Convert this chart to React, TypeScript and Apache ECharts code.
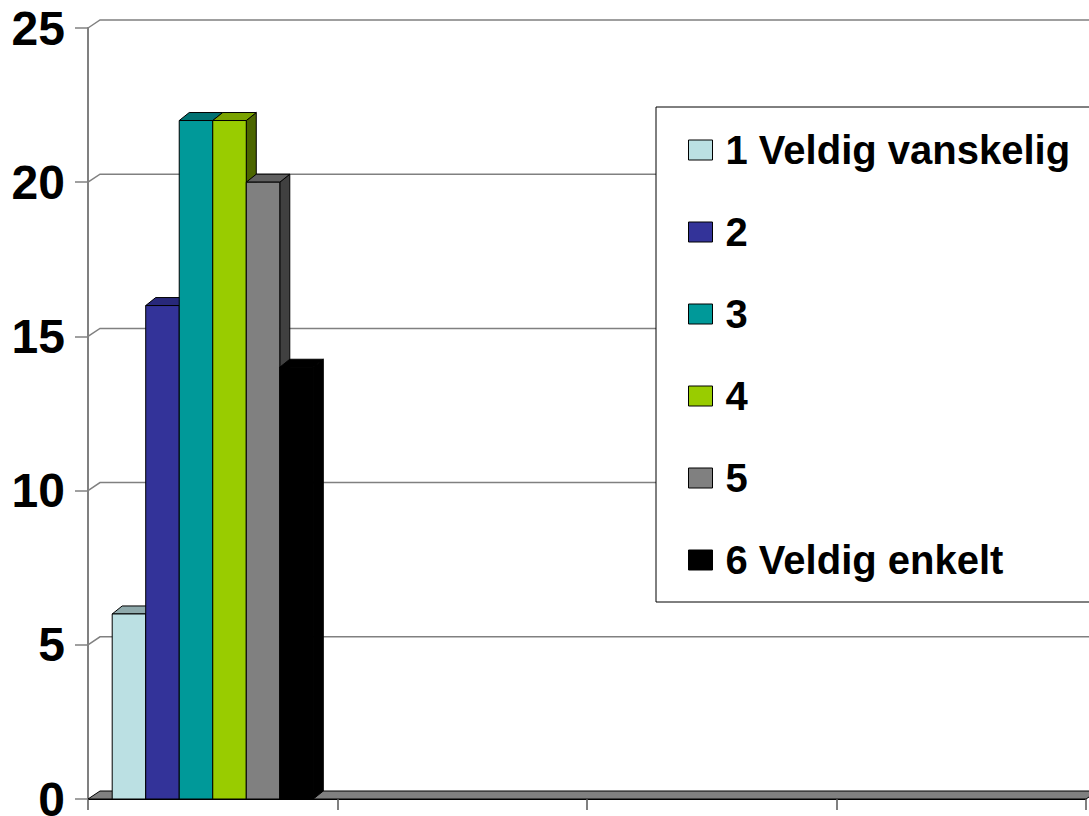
import React, { useEffect, useRef } from "react";
import * as echarts from "echarts";

const categories = ["A", "B", "C", "D"];
const seriesNames = ["1 Veldig vanskelig", "2", "3", "4", "5", "6 Veldig enkelt"];
// values for the first category (the others are empty)
const seriesValues = [6, 16, 22, 22, 20, 14];
const frontColors = ["#BBE0E3", "#333399", "#009999", "#99CC00", "#808080", "#000000"];
const topColors = ["#8FAAAC", "#28287A", "#007272", "#7AA300", "#606060", "#000000"];
const sideColors = ["#5E7172", "#1A1A4D", "#004C4C", "#4C6600", "#404040", "#000000"];
const yTickValues = [0, 5, 10, 15, 20, 25];

const DEPTH_X = 10;
const DEPTH_Y = -8;
const WALL_X = 12;
const WALL_Y = -8;

export default function App() {
  const ref = useRef<HTMLDivElement>(null);

  useEffect(() => {
    if (!ref.current) return;
    const chart = echarts.init(ref.current, undefined, { renderer: "svg" });

    const barSeries = seriesNames.map((name, i) => ({
      name,
      type: "custom",
      z: 3,
      itemStyle: { color: frontColors[i], borderColor: "#000", borderWidth: 1 },
      data: [[0, seriesValues[i]]],
      renderItem: (params: any, api: any) => {
        const cat = api.value(0);
        const v = api.value(1);
        const base = api.coord([cat, 0]);
        const top = api.coord([cat, v]);
        const band = api.size([1, 0])[0];
        const bw = (band * 0.806) / seriesNames.length;
        const x0 = base[0] - (bw * seriesNames.length) / 2 + i * bw;
        const x1 = x0 + bw;
        const yt = top[1];
        const yb = base[1];
        return {
          type: "group",
          children: [
            {
              type: "polygon",
              shape: {
                points: [
                  [x1, yt],
                  [x1 + DEPTH_X, yt + DEPTH_Y],
                  [x1 + DEPTH_X, yb + DEPTH_Y],
                  [x1, yb],
                ],
              },
              style: { fill: sideColors[i], stroke: "#000", lineWidth: 1 },
            },
            {
              type: "polygon",
              shape: {
                points: [
                  [x0, yt],
                  [x0 + DEPTH_X, yt + DEPTH_Y],
                  [x1 + DEPTH_X, yt + DEPTH_Y],
                  [x1, yt],
                ],
              },
              style: { fill: topColors[i], stroke: "#000", lineWidth: 1 },
            },
            {
              type: "rect",
              shape: { x: x0, y: yt, width: bw, height: yb - yt },
              style: { fill: frontColors[i], stroke: "#000", lineWidth: 1 },
            },
          ],
        };
      },
    }));

    const wallSeries = {
      name: "wall",
      type: "custom",
      z: 1,
      silent: true,
      data: yTickValues.map((v) => [0, v]),
      renderItem: (params: any, api: any) => {
        const v = api.value(1);
        const cs = params.coordSys;
        const y = api.coord([0, v])[1];
        const x = cs.x;
        const w = cs.width;
        if (v === 0) {
          return {
            type: "polygon",
            shape: {
              points: [
                [x, y],
                [x + WALL_X, y + WALL_Y],
                [x + w + WALL_X, y + WALL_Y],
                [x + w, y],
              ],
            },
            style: { fill: "#808080", stroke: "#000", lineWidth: 1 },
          };
        }
        return {
          type: "polyline",
          shape: {
            points: [
              [x, y],
              [x + WALL_X, y + WALL_Y],
              [x + w + WALL_X, y + WALL_Y],
            ],
          },
          style: { fill: "none", stroke: "#808080", lineWidth: 1.5 },
        };
      },
    };

    chart.setOption({
      animation: false,
      backgroundColor: "#ffffff",
      grid: { left: 88, right: 3, top: 28, bottom: 17, outerBoundsMode: "none", containLabel: false },
      legend: {
        data: seriesNames,
        orient: "vertical",
        left: 656,
        top: 107,
        padding: [23, 40, 22, 32],
        itemWidth: 24,
        itemHeight: 20,
        itemGap: 42,
        icon: "rect",
        borderColor: "#000",
        borderWidth: 1,
        backgroundColor: "#fff",
        itemStyle: { borderColor: "#000", borderWidth: 1 },
        textStyle: {
          fontFamily: "Liberation Sans, Arial, sans-serif",
          fontWeight: "bold",
          fontSize: 40,
          lineHeight: 40,
          color: "#000",
          padding: [0, 0, 0, 8],
        },
      },
      xAxis: {
        type: "category",
        data: categories,
        boundaryGap: true,
        axisLine: { show: true, lineStyle: { color: "#000", width: 1 } },
        axisTick: { show: true, interval: 0, length: 11, lineStyle: { color: "#808080", width: 2 } },
        axisLabel: { show: false },
        splitLine: { show: false },
      },
      yAxis: {
        type: "value",
        min: 0,
        max: 25,
        interval: 5,
        axisLine: { show: true, lineStyle: { color: "#808080", width: 2 } },
        axisTick: { show: true, length: 13, lineStyle: { color: "#808080", width: 1.5 } },
        axisLabel: {
          margin: 23,
          fontFamily: "Liberation Sans, Arial, sans-serif",
          fontWeight: "bold",
          fontSize: 48,
          color: "#000",
        },
        splitLine: { show: false },
      },
      series: [wallSeries, ...barSeries],
    });

    return () => chart.dispose();
  }, []);

  return (
    <div
      ref={ref}
      style={{ position: "absolute", left: 0, top: 0, width: 1089, height: 816 }}
    />
  );
}
